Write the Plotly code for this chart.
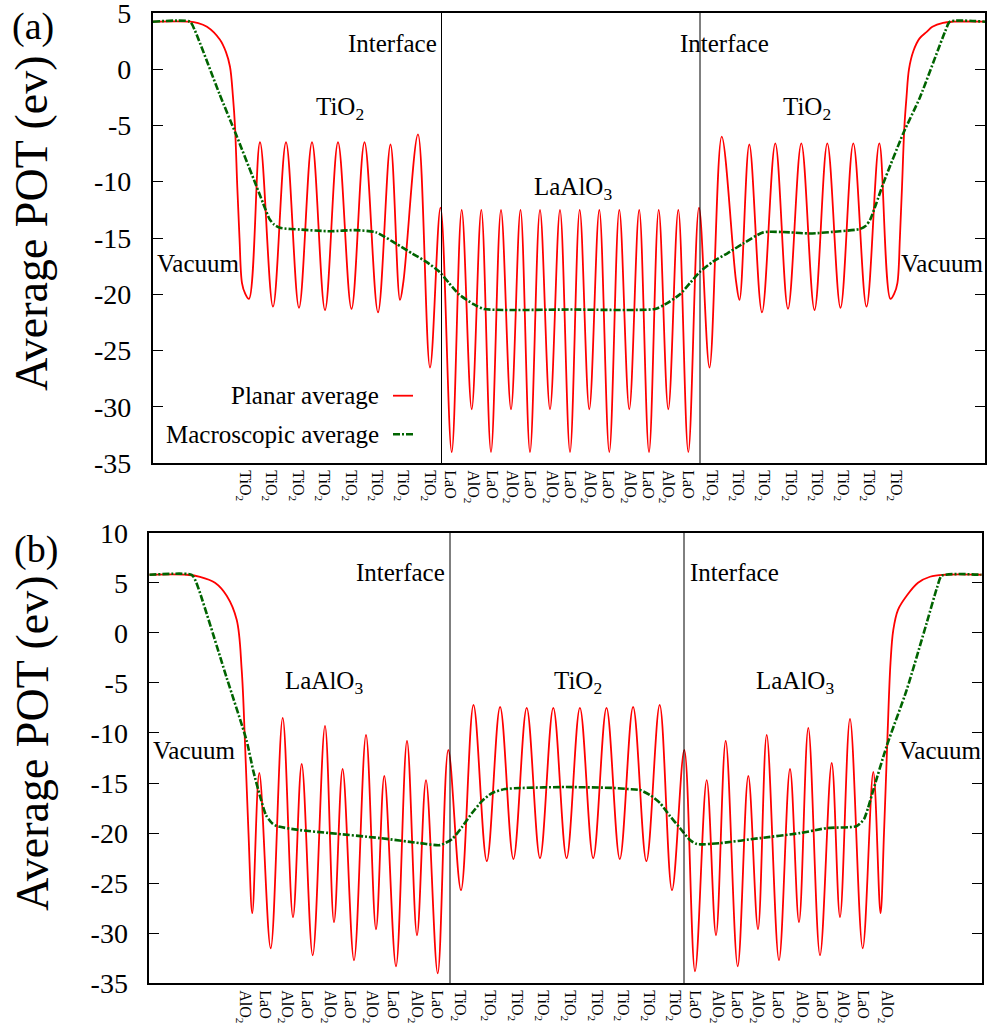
import plotly.graph_objects as go

# ---------------- data : panel (a)  (position along slab, arbitrary units ; potential in eV)
planar_a_x = [0, 37.3, 44.3, 54.3, 67.3, 73.3, 77.3, 80.3, 82.3, 84.6, 86.8, 89.3, 92.3, 96.3,
              107.3, 120.3, 133.3, 146.3, 159.3, 172.3, 185.3, 198.8, 211.8, 225.3, 237.8,
              247.3, 250.8, 265.3, 277.3, 287.8,
              299.0, 309.0, 319.0, 328.6, 338.3, 348.3, 358.3, 367.8, 377.3, 387.3, 397.3, 407.3,
              417.3, 427.0, 436.6, 446.6, 456.6, 466.6, 476.6, 486.5, 496.3, 506.0, 515.6, 525.6,
              535.6, 546.3, 556.8, 569.0, 583.3, 586.8, 596.6, 609.3, 622.6, 635.3, 648.6, 661.8,
              674.6, 687.8, 700.6, 713.8, 726.6, 737.7, 741.7, 744.7, 747.2, 749.3, 751.7, 753.8,
              756.3, 760.7, 766.7, 774.0, 779.7, 790.3, 800.3, 832.3]
planar_a_y = [4.2, 4.2, 4.1, 3.75, 2.6, 1.5, 0.2, -2.5, -5.1, -10.5, -15.0, -19.0, -19.9, -20.4,
              -6.5, -21.1, -6.5, -21.2, -6.5, -21.4, -6.5, -21.3, -6.5, -21.6, -6.7,
              -20.5, -18.8, -5.8, -26.5, -12.3,
              -34.0, -12.5, -30.2, -12.5, -34.0, -12.5, -30.2, -12.5, -34.0, -12.5, -30.2, -12.5,
              -34.0, -12.5, -30.2, -12.5, -34.0, -12.5, -30.2, -12.5, -34.0, -12.5, -30.2, -12.5,
              -34.0, -12.3, -26.5, -6.0, -18.8, -20.5, -6.7, -21.6, -6.6, -21.3, -6.6, -21.4,
              -6.6, -21.2, -6.6, -21.1, -6.6, -20.4, -19.9, -19.0, -15.0, -10.5, -5.1, -2.5,
              0.0, 1.6, 2.7, 3.3, 3.75, 4.1, 4.2, 4.2]

macro_a_x = [0, 37.3, 42.3, 66.7, 83.3, 103.3, 110.3, 116.7, 121.3, 127.3, 147.3, 177.3, 202.3,
             223.3, 243.3, 260.0, 273.3, 286.7, 296.3, 306.3, 321.3, 331.3, 417.0, 502.3, 512.3,
             527.3, 537.3, 547.3, 560.3, 574.0, 590.3, 610.6, 637.3, 657.3, 687.3, 707.3, 713.3,
             717.3, 723.3, 730.6, 750.6, 767.3, 792.3, 797.3, 832.3]
macro_a_y = [4.2, 4.2, 3.4, -2.2, -5.8, -10.3, -11.9, -13.3, -13.8, -14.1, -14.25, -14.4, -14.3,
             -14.5, -15.5, -16.4, -17.1, -18.0, -19.0, -20.0, -20.9, -21.3, -21.35, -21.3, -20.9,
             -20.0, -19.0, -18.0, -17.1, -16.4, -15.5, -14.5, -14.5, -14.6, -14.4, -14.2, -13.9,
             -13.4, -12.0, -10.15, -5.7, -2.5, 3.3, 4.2, 4.2]

ticks_a_x = [92.3, 118.3, 145.0, 171.3, 198.3, 224.3, 250.3, 277.3,
             297.3, 320.3, 339.0, 359.0, 377.3, 399.0, 417.3, 437.3, 455.3, 477.3, 495.3, 515.3, 535.3,
             559.0, 585.3, 611.3, 638.0, 664.0, 690.3, 716.3, 743.0]
ticks_a_text = ["TiO<sub>2</sub>"] * 8 + \
               ["LaO", "AlO<sub>2</sub>"] * 6 + ["LaO"] + \
               ["TiO<sub>2</sub>"] * 8
interfaces_a = [288.8, 547.3]

# ---------------- data : panel (b)
planar_b_x = [0, 37.4, 50.7, 65.7, 77.4, 87.4, 92.4, 95.7, 99.2, 103.0,
              110.0, 121.4, 133.4, 143.7, 152.4, 163.4, 175.7, 184.7, 193.3, 204.7, 216.7, 226.7,
              235.0, 246.7, 257.7, 267.7, 276.7, 288.4, 299.0,
              311.7, 324.2, 337.5, 350.8, 364.1, 377.4, 390.7, 404.0, 417.3, 430.6, 443.9, 457.2,
              470.5, 483.8, 497.1, 510.4, 522.7, 535.0,
              545.7, 557.4, 566.7, 576.4, 588.4, 599.0, 608.7, 617.4, 629.7, 640.7, 649.7, 659.0,
              670.7, 682.4, 690.7, 700.7, 713.4, 724.0, 731.2, 734.7, 738.2, 741.2, 744.0, 748.7,
              757.4, 768.7, 780.7, 795.7, 832.4]
planar_b_y = [5.8, 5.8, 5.6, 5.0, 3.7, 1.3, -3.7, -11.0, -20.0, -28.0,
              -14.0, -31.5, -8.5, -28.4, -13.1, -32.2, -9.3, -28.9, -13.6, -32.7, -10.2, -29.6,
              -14.3, -33.3, -10.8, -30.2, -14.7, -34.0, -11.7,
              -25.7, -7.2, -22.8, -7.4, -22.6, -7.5, -22.5, -7.5, -22.5, -7.5, -22.5, -7.5,
              -22.6, -7.4, -22.8, -7.2, -25.7, -11.7,
              -33.8, -14.7, -30.2, -10.8, -33.3, -14.3, -29.6, -10.2, -32.7, -13.6, -28.9, -9.5,
              -32.2, -13.0, -28.4, -8.6, -31.5, -13.9, -28.0, -20.0, -10.3, -3.0, 0.3, 2.3,
              3.7, 5.0, 5.6, 5.8, 5.8]

macro_b_x = [0, 42.4, 46.7, 77.4, 97.4, 104.0, 110.7, 116.7, 122.7, 127.4, 150.7, 180.7, 230.7,
             270.7, 290.7, 302.7, 312.7, 322.7, 332.7, 342.7, 355.7, 370.7, 416.7, 465.7, 478.7,
             490.7, 500.7, 510.7, 520.7, 530.7, 540.7, 547.7, 570.7, 610.7, 650.7, 677.4, 707.4,
             714.7, 718.7, 724.0, 737.4, 757.4, 777.4, 787.7, 792.4, 832.4]
macro_b_y = [5.8, 5.8, 5.1, -4.5, -10.8, -13.8, -16.3, -18.2, -19.0, -19.3, -19.7, -20.0, -20.5,
             -21.0, -21.2, -20.6, -19.4, -18.0, -16.8, -16.0, -15.6, -15.5, -15.4, -15.5, -15.6,
             -15.7, -16.2, -17.0, -18.3, -19.5, -20.7, -21.1, -21.0, -20.5, -20.0, -19.5, -19.3,
             -18.6, -17.5, -15.7, -11.3, -5.7, 1.0, 4.5, 5.7, 5.8]

ticks_b_x = [95.7, 115.7, 137.4, 157.4, 180.7, 200.7, 222.4, 243.7, 267.4, 287.4,
             310.7, 340.7, 367.4, 394.0, 420.7, 447.4, 473.4, 500.0, 525.7,
             545.7, 569.0, 587.4, 609.0, 629.0, 652.4, 672.4, 694.0, 714.0, 737.4]
ticks_b_text = ["AlO<sub>2</sub>", "LaO"] * 5 + \
               ["TiO<sub>2</sub>"] * 9 + \
               ["LaO", "AlO<sub>2</sub>"] * 5
interfaces_b = [300.7, 534.7]

y_ticks_a = [5, 0, -5, -10, -15, -20, -25, -30, -35]
y_ticks_b = [10, 5, 0, -5, -10, -15, -20, -25, -30, -35]

# ---------------- figure
W, H = 987, 1034
FONT = "Liberation Serif"
RED = "#ff0000"
GREEN = "#006400"
GDASH = "7px,2px,2px,2px"


def pxx(p):
    return p / W


def pxy(p):
    return 1 - p / H


fig = go.Figure()
fig.add_trace(go.Scatter(x=planar_a_x, y=planar_a_y, xaxis="x", yaxis="y", mode="lines",
                         line=dict(color=RED, width=1.8, shape="spline", smoothing=1.0),
                         showlegend=False))
fig.add_trace(go.Scatter(x=macro_a_x, y=macro_a_y, xaxis="x", yaxis="y", mode="lines",
                         line=dict(color=GREEN, width=2.6, dash=GDASH,
                                   shape="spline", smoothing=0.6),
                         showlegend=False))
fig.add_trace(go.Scatter(x=planar_b_x, y=planar_b_y, xaxis="x2", yaxis="y2", mode="lines",
                         line=dict(color=RED, width=1.8, shape="spline", smoothing=1.0),
                         showlegend=False))
fig.add_trace(go.Scatter(x=macro_b_x, y=macro_b_y, xaxis="x2", yaxis="y2", mode="lines",
                         line=dict(color=GREEN, width=2.6, dash=GDASH,
                                   shape="spline", smoothing=0.6),
                         showlegend=False))

xcommon = dict(showline=True, linecolor="black", linewidth=1.6, mirror=True, ticks="",
               showgrid=False, zeroline=False, tickangle=90, automargin=False,
               ticklabeloverflow="allow",
               tickfont=dict(family=FONT, size=16, color="black"), ticklabelstandoff=2)
ycommon = dict(showline=True, linecolor="black", linewidth=1.6, mirror="allticks",
               ticks="inside", ticklen=10, tickwidth=1.2, tickcolor="black",
               showgrid=False, zeroline=False, automargin=False,
               ticklabeloverflow="allow",
               tickfont=dict(family=FONT, size=28, color="black"), ticklabelstandoff=14)

fig.update_layout(
    width=W, height=H, autosize=False,
    margin=dict(l=0, r=0, t=0, b=0, pad=0),
    paper_bgcolor="white", plot_bgcolor="white",
    xaxis=dict(domain=[pxx(152.7), pxx(985)], anchor="y", range=[0, 832.3],
               tickvals=ticks_a_x, ticktext=ticks_a_text, **xcommon),
    yaxis=dict(domain=[pxy(463.3), pxy(12.7)], anchor="x", range=[-35, 5],
               tickvals=y_ticks_a, ticktext=[str(v) for v in y_ticks_a], **ycommon),
    xaxis2=dict(domain=[pxx(149.3), pxx(981.7)], anchor="y2", range=[0, 832.4],
                tickvals=ticks_b_x, ticktext=ticks_b_text, **xcommon),
    yaxis2=dict(domain=[pxy(983.3), pxy(532.7)], anchor="x2", range=[-35, 10],
                tickvals=y_ticks_b, ticktext=[str(v) for v in y_ticks_b], **ycommon),
)

shapes = []
for xv in interfaces_a:
    shapes.append(dict(type="line", xref="x", yref="y domain", x0=xv, x1=xv, y0=0, y1=1,
                       line=dict(color="black", width=1)))
for xv in interfaces_b:
    shapes.append(dict(type="line", xref="x2", yref="y2 domain", x0=xv, x1=xv, y0=0, y1=1,
                       line=dict(color="black", width=1)))
# legend samples (panel a)
shapes.append(dict(type="line", xref="paper", yref="paper", x0=pxx(393), x1=pxx(413),
                   y0=pxy(395.7), y1=pxy(395.7), line=dict(color=RED, width=1.8)))
shapes.append(dict(type="line", xref="paper", yref="paper", x0=pxx(393), x1=pxx(413),
                   y0=pxy(434.3), y1=pxy(434.3),
                   line=dict(color=GREEN, width=2.6, dash=GDASH)))
fig.update_layout(shapes=shapes)

ann = []


def txt(x, y, s, xref, yref, size=25, xanchor="center", yanchor="middle", **kw):
    d = dict(x=x, y=y, xref=xref, yref=yref, text=s, showarrow=False,
             xanchor=xanchor, yanchor=yanchor,
             font=dict(family=FONT, size=size, color="black"))
    d.update(kw)
    ann.append(d)


# panel (a) labels
txt(239.3, 2.3, "Interface", "x", "y")
txt(571.3, 2.3, "Interface", "x", "y")
txt(187.3, -3.5, "TiO<sub>2</sub>", "x", "y")
txt(654.3, -3.5, "TiO<sub>2</sub>", "x", "y")
txt(420.3, -10.6, "LaAlO<sub>3</sub>", "x", "y")
txt(44.8, -17.3, "Vacuum", "x", "y")
txt(789.3, -17.3, "Vacuum", "x", "y")
# panel (b) labels
txt(250.7, 6.0, "Interface", "x2", "y2")
txt(584.7, 6.0, "Interface", "x2", "y2")
txt(174.7, -5.0, "LaAlO<sub>3</sub>", "x2", "y2")
txt(645.7, -5.0, "LaAlO<sub>3</sub>", "x2", "y2")
txt(428.7, -5.0, "TiO<sub>2</sub>", "x2", "y2")
txt(44.7, -11.8, "Vacuum", "x2", "y2")
txt(790.2, -11.8, "Vacuum", "x2", "y2")
# legend texts
txt(pxx(381), pxy(395.7), "Planar average", "paper", "paper", xanchor="right")
txt(pxx(381), pxy(434.3), "Macroscopic average", "paper", "paper", xanchor="right")
# panel letters
txt(pxx(33), pxy(27), "(a)", "paper", "paper", size=38)
txt(pxx(36), pxy(549), "(b)", "paper", "paper", size=38)
# y titles
txt(pxx(32), pxy(223), "Average POT (ev)", "paper", "paper", size=46, textangle=-90)
txt(pxx(32), pxy(743), "Average POT (ev)", "paper", "paper", size=46, textangle=-90)
fig.update_layout(annotations=ann)

fig.write_html("out.html")
